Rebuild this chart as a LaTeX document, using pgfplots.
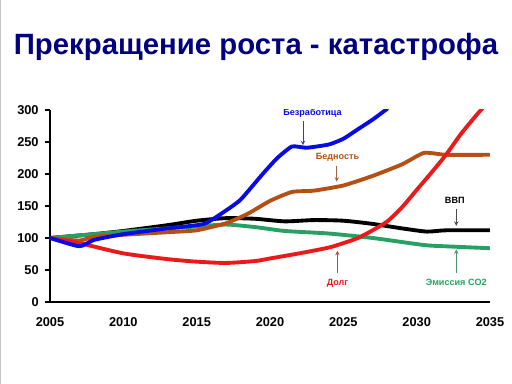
\documentclass[border=0pt]{standalone}
\usepackage{pgfplots}
\pgfplotsset{compat=1.18}
\usepackage{fontspec}
\setmainfont{Liberation Sans}
\definecolor{ttl}{RGB}{0,0,128}
\definecolor{cblue}{RGB}{10,10,230}
\definecolor{cred}{RGB}{235,25,25}
\definecolor{cgreen}{RGB}{40,160,100}
\definecolor{cbrown}{RGB}{180,80,20}
\begin{document}
\begin{tikzpicture}
\path[use as bounding box] (0pt,0pt) rectangle (384pt,288pt);
\fill[white] (0pt,0pt) rectangle (384pt,288pt);
\draw[gray!45, line width=1pt] (0.5pt,0pt) -- (0.5pt,288pt);
\node[font=\bfseries\fontsize{22}{26}\selectfont, text=ttl] at (192pt,253pt) {Прекращение роста - катастрофа};
\begin{axis}[
  at={(37.5pt,61.5pt)}, anchor=south west,
  scale only axis, width=330pt, height=144pt,
  xmin=2005, xmax=2035, ymin=0, ymax=300,
  axis x line*=bottom, axis y line*=left,
  axis line style={line width=2.2pt, -},
  xtick={2005,2010,...,2035}, ytick={0,50,...,300},
  x tick style={draw=none},
  y tick style={line width=1.2pt, black},
  tick align=outside, major tick length=4pt,
  ticklabel style={font=\bfseries\fontsize{9.6}{11}\selectfont},
  /pgf/number format/assume math mode=true,
  xticklabel style={/pgf/number format/1000 sep={}, yshift=-4pt},
  yticklabel style={xshift=-1pt},
  every axis plot/.append style={line width=2.9pt, no markers, line join=round, line cap=round},
]
% ВВП
\addplot[black, smooth, tension=0.4] coordinates {
(2005,100) (2008,106) (2010,111) (2013,120) (2015,127) (2017,131) (2019,130) (2021,126) (2023,128) (2025,127) (2027,122) (2029,115) (2030.7,110) (2032,112) (2035,112)};
% Эмиссия CO2
\addplot[cgreen, smooth, tension=0.4] coordinates {
(2005,100) (2007,104) (2010,110) (2013,115) (2015,118) (2017,121) (2019,117) (2021,111) (2024,107) (2027,100) (2030.5,89) (2032,87) (2035,84)};
% Бедность
\addplot[cbrown, smooth, tension=0.3] coordinates {
(2005,100) (2007,96) (2008,102) (2010,105) (2013,109) (2015,112) (2017,123) (2018.5,138) (2020,158) (2021.5,172) (2023,174) (2025,182) (2027,197) (2029,215) (2030.5,233) (2032,230) (2035,230)};
% Долг
\addplot[cred, smooth, tension=0.4] coordinates {
(2005,100) (2007,92) (2010,76) (2013,67) (2015,63) (2017,61) (2019,64) (2020,68) (2022,76) (2024,85) (2025,92) (2026,100) (2027,112) (2028,126) (2029,148) (2030,175) (2031,202) (2032,230) (2033,262) (2034,290) (2034.5,303)};
% Безработица
\addplot[cblue, smooth, tension=0.3] coordinates {
(2005,100) (2007,87) (2008,97) (2010,106) (2013,115) (2015.5,122) (2017,143) (2018,160) (2019.5,200) (2020.5,225) (2021.5,243) (2022.5,241) (2024,246) (2025,255) (2026,270) (2027,285) (2028,302)};
% labels
\begin{scope}[every node/.style={font=\bfseries\fontsize{6.8}{8}\selectfont}]
\node[text=cblue] at (axis cs:2022.9,295) {Безработица};
\node[text=cbrown] at (axis cs:2024.6,226) {Бедность};
\node[text=black] at (axis cs:2032.6,159) {ВВП};
\node[text=cred] at (axis cs:2024.6,29) {Долг};
\node[text=cgreen] at (axis cs:2032.7,31) {Эмиссия CO2};
\end{scope}
\begin{scope}[line width=0.5pt, -{stealth}]
\draw[cblue!60!gray] (axis cs:2022.25,283) -- (axis cs:2022.25,245);
\draw[cbrown!60!gray] (axis cs:2024.55,213) -- (axis cs:2024.55,188);
\draw[black!70] (axis cs:2032.7,146) -- (axis cs:2032.7,119);
\draw[cred!60!gray] (axis cs:2024.6,45) -- (axis cs:2024.6,80);
\draw[cgreen!60!gray] (axis cs:2032.7,45) -- (axis cs:2032.7,82);
\end{scope}
\end{axis}
\end{tikzpicture}
\end{document}
